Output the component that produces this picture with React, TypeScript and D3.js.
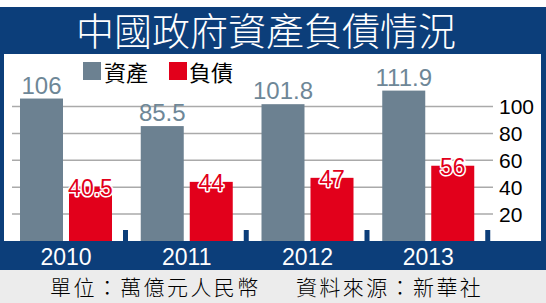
import React from "react";
import * as d3 from "d3";

const years = ["2010", "2011", "2012", "2013"];
const assets = [106, 85.5, 101.8, 111.9];
const liabilities = [40.5, 44, 47, 56];
const assetLabels = ["106", "85.5", "101.8", "111.9"];
const liabilityLabels = ["40.5", "44", "47", "56"];
const yTicks = [20, 40, 60, 80, 100];
const title = "中國政府資產負債情況";
const legendNames = ["資產", "負債"];
const footerLeft = "單位：萬億元人民幣";
const footerRight = "資料來源：新華社";

const W = 546;
const H = 303;
const BLUE = "#0c3e7a";
const GRAY = "#6c8191";
const GRAY_LABEL = "#6e8797";
const RED = "#e2001b";
const LATIN = "'Liberation Sans', Arial, sans-serif";
const CJK = "'Noto Sans CJK TC', 'Noto Sans CJK SC', sans-serif";

export default function App() {
  const y = d3.scaleLinear().domain([0, 100]).range([241, 106.6]);
  const x = d3.scaleBand<string>().domain(years).range([8, 491]).padding(0);
  const barW = 43;

  return (
    <svg width={W} height={H} style={{ display: "block", position: "absolute", left: 0, top: 0 }}>
      <rect x={0} y={0} width={W} height={H} fill="#ffffff" />
      <rect x={0} y={7} width={W} height={263} fill={BLUE} />
      <rect x={4} y={54} width={537} height={187} fill="#ffffff" />
      <rect x={0} y={270} width={W} height={33} fill="#ececec" />

      <text
        x={266}
        y={28}
        fill="#ffffff"
        fontFamily={CJK}
        fontSize={38}
        fontWeight={300}
        textAnchor="middle"
        dominantBaseline="central"
      >
        {title}
      </text>

      {yTicks.map((t) => (
        <g key={t}>
          <line x1={12} x2={493} y1={y(t)} y2={y(t)} stroke="#aaaaaa" strokeWidth={1.5} />
          <text
            x={499}
            y={y(t)}
            fontFamily={LATIN}
            fontSize={21}
            fill="#000"
            dominantBaseline="central"
          >
            {t}
          </text>
        </g>
      ))}

      {years.map((yr, i) => {
        const b = x(yr) as number;
        return (
          <g key={yr}>
            <rect x={b + 12} y={y(assets[i])} width={barW} height={y(0) - y(assets[i])} fill={GRAY} />
            <rect
              x={b + 61}
              y={y(liabilities[i])}
              width={barW}
              height={y(0) - y(liabilities[i])}
              fill={RED}
            />
            <rect x={b + 115} y={230} width={5} height={y(0) - 230} fill={BLUE} />
            <text
              x={b + 12 + barW / 2}
              y={y(assets[i]) - 5}
              fontFamily={LATIN}
              fontSize={24}
              fill={GRAY_LABEL}
              textAnchor="middle"
            >
              {assetLabels[i]}
            </text>
            <text
              x={b + 61 + barW / 2}
              y={y(liabilities[i]) + 1}
              fontFamily={LATIN}
              fontSize={23}
              fill={RED}
              stroke="#ffffff"
              strokeWidth={3}
              strokeLinejoin="round"
              paintOrder="stroke"
              textAnchor="middle"
              dominantBaseline="central"
            >
              {liabilityLabels[i]}
            </text>
            <text
              x={b + 58}
              y={265}
              fontFamily={LATIN}
              fontSize={23}
              fill="#ffffff"
              textAnchor="middle"
            >
              {yr}
            </text>
          </g>
        );
      })}

      <rect x={83} y={62} width={18} height={18} fill={GRAY} />
      <text x={104} y={71} fontFamily={CJK} fontSize={22} fill="#000" dominantBaseline="central">
        {legendNames[0]}
      </text>
      <rect x={169} y={62} width={18} height={18} fill={RED} />
      <text x={189} y={71} fontFamily={CJK} fontSize={22} fill="#000" dominantBaseline="central">
        {legendNames[1]}
      </text>

      <text
        x={50}
        y={286}
        fontFamily={CJK}
        fontSize={21}
        fontWeight={300}
        letterSpacing={2.4}
        fill="#000"
        dominantBaseline="central"
      >
        {footerLeft}
      </text>
      <text
        x={296}
        y={286}
        fontFamily={CJK}
        fontSize={21}
        fontWeight={300}
        letterSpacing={2.4}
        fill="#000"
        dominantBaseline="central"
      >
        {footerRight}
      </text>
    </svg>
  );
}
